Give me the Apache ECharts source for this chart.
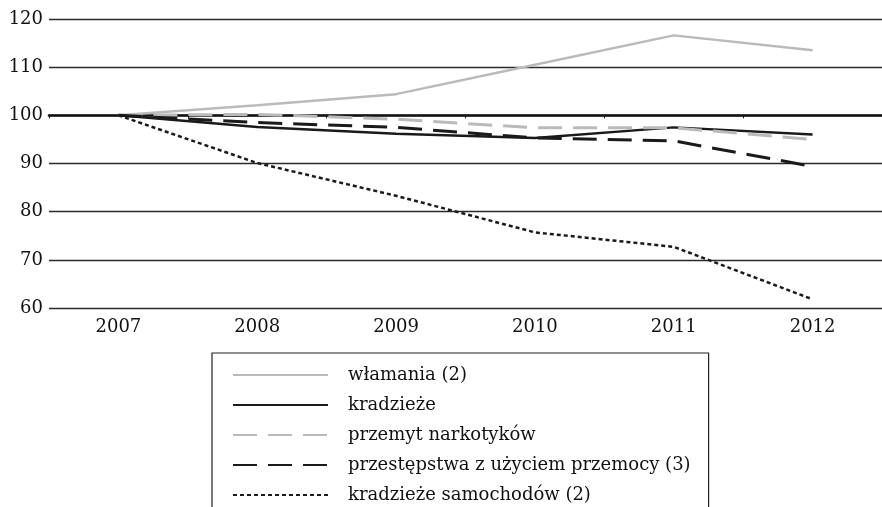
<!DOCTYPE html>
<html>
<head>
<meta charset="utf-8">
<script src="https://cdn.jsdelivr.net/npm/echarts@6/dist/echarts.min.js"></script>
<style>
html,body{margin:0;padding:0;background:#fff;}
#chart{width:882px;height:507px;}
</style>
</head>
<body>
<div id="chart"></div>
<script>
var years = ['2007', '2008', '2009', '2010', '2011', '2012'];
var wlamania = [100, 102.1, 104.4, 110.5, 116.6, 113.5];
var kradzieze = [100, 97.6, 96.2, 95.3, 97.5, 96.0];
var przemyt = [100, 100.2, 99.2, 97.4, 97.4, 95.0];
var przemoc = [100, 98.5, 97.5, 95.3, 94.7, 89.4];
var samochody = [100, 90.1, 83.3, 75.7, 72.7, 61.8];
var seriesNames = ['włamania (2)', 'kradzieże', 'przemyt narkotyków', 'przestępstwa z użyciem przemocy (3)', 'kradzieże samochodów (2)'];
var yMin = 60, yMax = 120, yStep = 10, baseLine = 100;

var FONT = 'DejaVu Serif';
var gridTop = 19, gridHeight = 289;
var chart = echarts.init(document.getElementById('chart'), null, {renderer: 'canvas'});

function mk(name, data, color, width, type) {
  return {
    name: name, type: 'line', data: data, symbol: 'none', showSymbol: false,
    lineStyle: {color: color, width: width, type: type, cap: 'butt'},
    itemStyle: {color: color},
    emphasis: {disabled: true}, animation: false
  };
}

chart.setOption({
  animation: false,
  grid: {left: 49, top: gridTop, width: 840, height: gridHeight},
  xAxis: [{
    type: 'category', data: years, boundaryGap: true,
    axisLine: {show: false}, axisTick: {show: false},
    axisLabel: {fontFamily: FONT, fontSize: 18, color: '#111', margin: 10}
  }, {
    type: 'category', data: years, boundaryGap: true, position: 'bottom',
    offset: -gridHeight * (baseLine - yMin) / (yMax - yMin),
    axisLine: {show: true, lineStyle: {color: '#111', width: 2.6}},
    axisTick: {show: true, inside: false, length: 3, lineStyle: {color: '#111', width: 1}},
    axisLabel: {show: false}
  }],
  yAxis: {
    type: 'value', min: yMin, max: yMax, interval: yStep,
    axisLine: {show: false}, axisTick: {show: false},
    axisLabel: {fontFamily: FONT, fontSize: 18, color: '#111', margin: 6},
    splitLine: {show: true, lineStyle: {color: '#2a2a2a', width: 1.3}}
  },
  legend: {
    orient: 'vertical', left: 212, top: 353, height: 220,
    itemWidth: 95, itemHeight: 14, itemGap: 12,
    padding: [13, 18, 20, 20],
    borderColor: '#222', borderWidth: 1.2,
    itemStyle: {opacity: 0},
    textStyle: {fontFamily: FONT, fontSize: 18, color: '#111', padding: [0, 0, 0, 15]},
    data: seriesNames
  },
  series: [
    mk(seriesNames[0], wlamania, '#bababa', 2.5, 'solid'),
    mk(seriesNames[1], kradzieze, '#1a1a1a', 2.5, 'solid'),
    mk(seriesNames[2], przemyt, '#bababa', 3, [24, 11]),
    mk(seriesNames[3], przemoc, '#1a1a1a', 3, [24, 11]),
    mk(seriesNames[4], samochody, '#1a1a1a', 2.5, [4, 3])
  ]
});
</script>
</body>
</html>
